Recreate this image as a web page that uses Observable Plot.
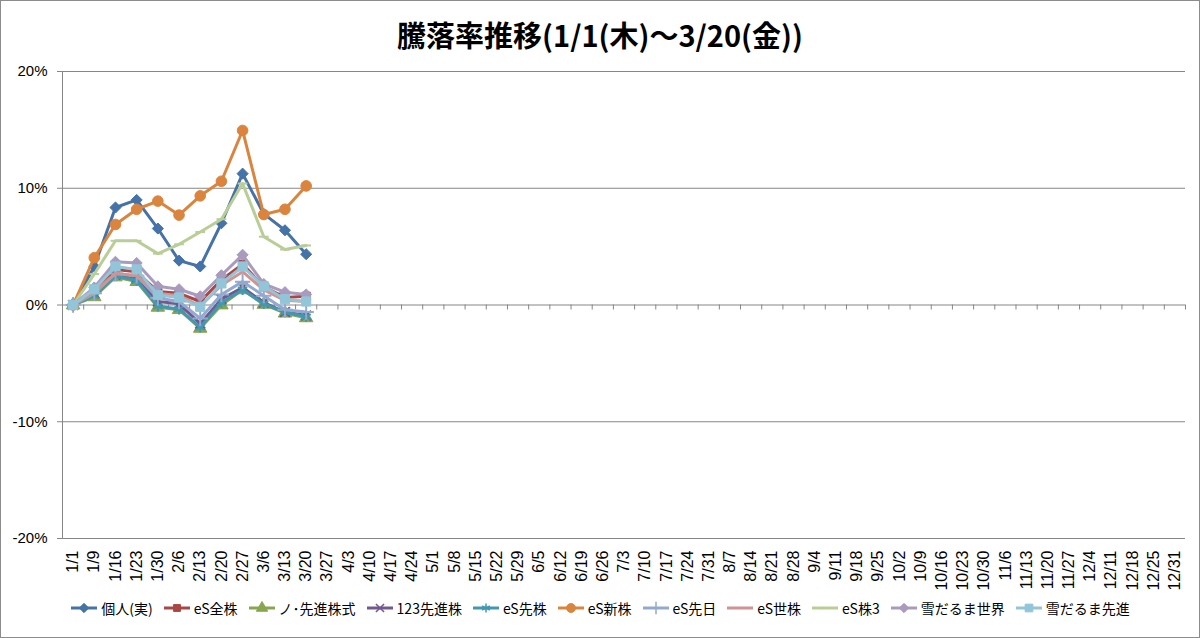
<!DOCTYPE html>
<html>
<head>
<meta charset="utf-8">
<script src="https://cdn.jsdelivr.net/npm/d3@7"></script>
<script src="https://cdn.jsdelivr.net/npm/@observablehq/plot@0.6"></script>
<style>
  html, body { margin: 0; padding: 0; background: #fff; }
  #chart { position: absolute; left: 0; top: 0; width: 1198px; height: 636px; border: 1px solid #8c8c8c; background: #fff; overflow: hidden; }
  #title { height: 55px; display: flex; align-items: center; justify-content: center; font-family: "Noto Sans CJK JP", sans-serif; font-weight: bold; font-size: 29px; color: #000; padding-top: 10px; box-sizing: border-box; }
  #plot svg { display: block; }
  #legend { height: 41px; display: flex; justify-content: center; align-items: flex-start; padding-top: 2px; box-sizing: border-box; font-family: "Noto Sans CJK JP", sans-serif; font-size: 14px; color: #000; }
  .item { display: flex; align-items: center; margin: 0 5px; white-space: nowrap; }
  .item svg { margin-right: 3px; }
</style>
</head>
<body>
<div id="chart">
  <div id="title">騰落率推移(1/1(木)～3/20(金))</div>
  <div id="plot"></div>
  <div id="legend"></div>
</div>
<script>
const dates = ["1/1","1/9","1/16","1/23","1/30","2/6","2/13","2/20","2/27","3/6","3/13","3/20","3/27","4/3","4/10","4/17","4/24","5/1","5/8","5/15","5/22","5/29","6/5","6/12","6/19","6/26","7/3","7/10","7/17","7/24","7/31","8/7","8/14","8/21","8/28","9/4","9/11","9/18","9/25","10/2","10/9","10/16","10/23","10/30","11/6","11/13","11/20","11/27","12/4","12/11","12/18","12/25","12/31"];
const yTicks = [-20, -10, 0, 10, 20];

const seriesNames = ["個人(実)","eS全株","ノ･先進株式","123先進株","eS先株","eS新株","eS先日","eS世株","eS株3","雪だるま世界","雪だるま先進"];
const seriesColors = ["#4572A7","#AA4643","#89A54E","#71588F","#4198AF","#DB843D","#93A9CF","#D19392","#B9CD96","#A99BBD","#92C5D8"];

const kojin       = [0, 3.3, 8.35, 9.0, 6.55, 3.8, 3.3, 7.0, 11.25, 7.8, 6.4, 4.35];
const eSzenkabu   = [0, 1.2, 3.05, 2.85, 1.15, 1.0, 0.3, 2.15, 3.5, 1.55, 0.65, 0.75];
const noSenshin   = [0, 0.7, 2.4, 2.0, -0.2, -0.4, -2.0, 0.0, 1.3, 0.05, -0.7, -1.1];
const s123        = [0, 1.0, 2.6, 2.3, 0.3, 0.1, -1.6, 0.5, 1.5, 0.2, -0.6, -0.9];
const eSsakikabu  = [0, 0.8, 2.5, 2.1, -0.1, -0.35, -1.9, 0.2, 1.3, 0.1, -0.6, -1.0];
const eSshinkabu  = [0, 4.05, 6.9, 8.2, 8.9, 7.7, 9.35, 10.6, 14.95, 7.75, 8.2, 10.2];
const eSsakibi    = [0, 1.0, 2.7, 2.5, 0.6, 0.3, -1.15, 0.9, 2.0, 0.8, -0.4, -0.6];
const eSsekabu    = [0, 1.1, 2.7, 2.5, 1.0, 0.8, -0.1, 1.7, 2.85, 1.3, 0.4, 0.3];
const eSkabu3     = [0, 2.65, 5.5, 5.5, 4.4, 5.2, 6.25, 7.35, 10.4, 5.85, 4.75, 5.1];
const yukiSekai   = [0, 1.5, 3.7, 3.6, 1.6, 1.35, 0.75, 2.55, 4.3, 1.8, 1.1, 0.9];
const yukiSenshin = [0, 1.35, 3.3, 3.05, 0.85, 0.65, -0.15, 1.85, 3.3, 1.6, 0.5, 0.3];

const seriesValues = [kojin, eSzenkabu, noSenshin, s123, eSsakikabu, eSshinkabu, eSsakibi, eSsekabu, eSkabu3, yukiSekai, yukiSenshin];

const dashSymbol = { draw(ctx, size) { const w = Math.sqrt(size) * 0.55; ctx.moveTo(-w, 0); ctx.lineTo(w, 0); } };
// marker: [symbol, r, filled]
const markers = [
  [d3.symbolDiamond2, 5, true],
  [d3.symbolSquare, 4.6, true],
  [d3.symbolTriangle, 5, true],
  [d3.symbolTimes, 4.5, false],
  [d3.symbolAsterisk, 5, false],
  [d3.symbolCircle, 5.3, true],
  [d3.symbolPlus, 5, false],
  null,
  [dashSymbol, 5, false],
  [d3.symbolDiamond2, 5, true],
  [d3.symbolSquare, 5.2, true]
];

const W = 1198, H = 540, mL = 61, mR = 14, mT = 15, mB = 58;
const step = (W - mL - mR) / dates.length;

const marks = [
  Plot.ruleY(yTicks.filter(t => t !== 0), {stroke: "#868686", strokeWidth: 1}),
  Plot.ruleX([dates[0]], {dx: -step / 2, stroke: "#868686"}),
  Plot.ruleY([0], {stroke: "#868686"}),
  Plot.ruleX(dates.slice(1), {x: d => d, dx: -step / 2, y1: 0, y2: 0, insetBottom: -5, stroke: "#868686"}),
  Plot.ruleX([dates[dates.length - 1]], {dx: step / 2, y1: 0, y2: 0, insetBottom: -5, stroke: "#868686"}),
  Plot.axisY({ticks: yTicks, tickSize: 5, tickPadding: 10, tickFormat: d => `${d}%`, fontSize: 15, stroke: "#868686", fill: "#000", label: null}),
  Plot.axisX({tickRotate: -90, tickSize: 0, tickPadding: 12, fontSize: 16, fill: "#000", label: null})
];

seriesValues.forEach((vals, i) => {
  const data = vals.map((v, j) => ({date: dates[j], value: v}));
  const c = seriesColors[i];
  marks.push(Plot.line(data, {x: "date", y: "value", stroke: c, strokeWidth: 3, strokeLinejoin: "round"}));
  const m = markers[i];
  if (m) {
    marks.push(Plot.dot(data, {x: "date", y: "value", symbol: m[0], r: m[1],
      fill: m[2] ? c : "none", stroke: c, strokeWidth: m[2] ? 1 : 2}));
  }
});

const chart = Plot.plot({
  width: W, height: H,
  marginTop: mT, marginBottom: mB, marginLeft: mL, marginRight: mR,
  style: {fontFamily: "'Liberation Sans', Arial, sans-serif", fontSize: "15px", color: "#000", background: "transparent"},
  x: {type: "point", domain: dates, padding: 0.5, round: false, axis: null, label: null},
  y: {domain: [-20, 20], axis: null, label: null},
  marks
});
document.getElementById("plot").appendChild(chart);

// legend
const legend = document.getElementById("legend");
seriesNames.forEach((name, i) => {
  const item = document.createElement("div");
  item.className = "item";
  const c = seriesColors[i];
  const m = markers[i];
  let sym = "";
  if (m) {
    const size = Math.PI * m[1] * m[1] * 0.7;
    const p = d3.symbol(m[0], size)();
    sym = `<path d="${p}" transform="translate(14,8)" fill="${m[2] ? c : "none"}" stroke="${c}" stroke-width="${m[2] ? 1 : 1.5}"/>`;
  }
  item.innerHTML = `<svg width="28" height="16"><line x1="1" x2="27" y1="8" y2="8" stroke="${c}" stroke-width="3"/>${sym}</svg><span>${name}</span>`;
  legend.appendChild(item);
});
</script>
</body>
</html>
